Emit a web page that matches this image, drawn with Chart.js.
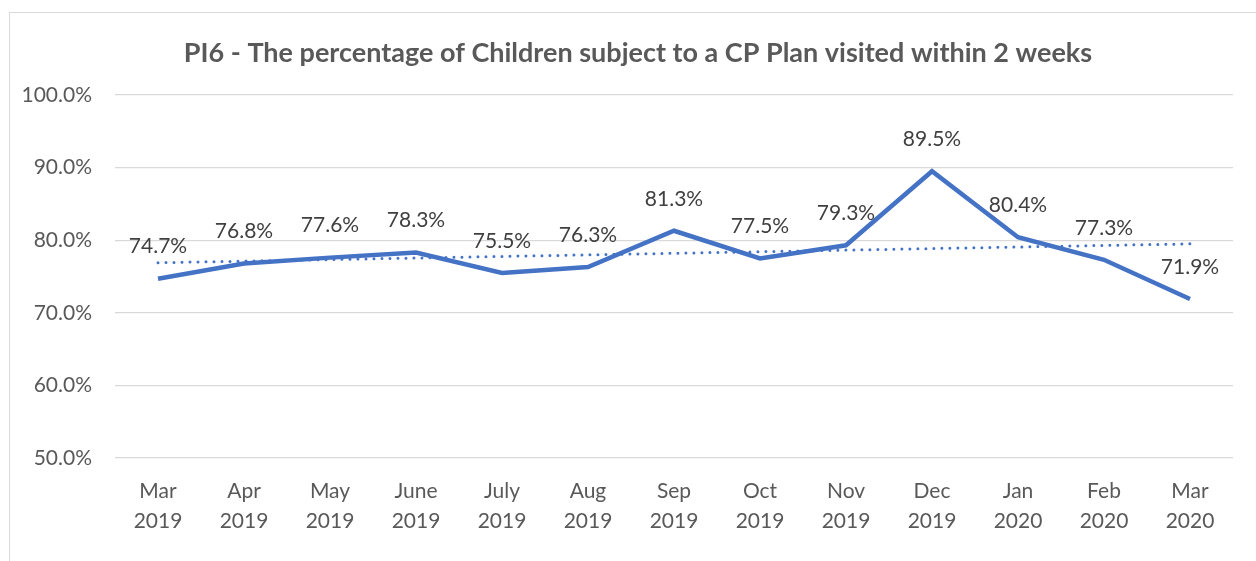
<!DOCTYPE html>
<html>
<head>
<meta charset="utf-8">
<script src="https://cdn.jsdelivr.net/npm/chart.js@4"></script>
<style>
  body { margin: 0; background: #fff; overflow: hidden; }
  .frame { position: absolute; left: 9px; top: 12px; width: 1300px; height: 600px; border: 1px solid #d9d9d9; }
  #chart { position: absolute; left: 0; top: 0; }
</style>
</head>
<body>
<div class="frame"></div>
<canvas id="chart" width="1256" height="561"></canvas>
<script>
// monthly figures, Mar 2019 - Mar 2020
const months = [
  ['Mar', '2019'], ['Apr', '2019'], ['May', '2019'], ['June', '2019'], ['July', '2019'],
  ['Aug', '2019'], ['Sep', '2019'], ['Oct', '2019'], ['Nov', '2019'], ['Dec', '2019'],
  ['Jan', '2020'], ['Feb', '2020'], ['Mar', '2020']
];
const visitedPct = [74.7, 76.8, 77.6, 78.3, 75.5, 76.3, 81.3, 77.5, 79.3, 89.5, 80.4, 77.3, 71.9];
// linear trend line, only the two ends are needed
const trendPct = [76.9, null, null, null, null, null, null, null, null, null, null, null, 79.5];
const yTicks = [50, 60, 70, 80, 90, 100];

const FONT = 'Lato, "Open Sans", sans-serif';
const BLUE = '#4472C4';

// title + value labels drawn straight on the canvas
const labelsPlugin = {
  id: 'labels',
  afterDatasetsDraw(chart) {
    const ctx = chart.ctx;
    const meta = chart.getDatasetMeta(0);
    ctx.save();
    ctx.font = '21px ' + FONT;
    ctx.fillStyle = '#404040';
    ctx.textAlign = 'center';
    ctx.textBaseline = 'middle';
    meta.data.forEach((pt, i) => {
      ctx.fillText(visitedPct[i].toFixed(1) + '%', pt.x, pt.y - 32);
    });
    ctx.font = 'bold 27px ' + FONT;
    ctx.fillStyle = '#595959';
    ctx.fillText('PI6 - The percentage of Children subject to a CP Plan visited within 2 weeks', 638, 53);
    ctx.restore();
  }
};

new Chart(document.getElementById('chart'), {
  type: 'line',
  data: {
    labels: months,
    datasets: [
      {
        data: visitedPct,
        borderColor: BLUE,
        borderWidth: 4.5,
        pointRadius: 0,
        tension: 0,
        borderJoinStyle: 'miter'
      },
      {
        data: trendPct,
        borderColor: BLUE,
        borderWidth: 3,
        borderDash: [0, 8],
        borderCapStyle: 'round',
        pointRadius: 0,
        spanGaps: true
      }
    ]
  },
  options: {
    responsive: false,
    animation: false,
    layout: { padding: { top: 95, right: 23, left: 0, bottom: 0 } },
    plugins: {
      legend: { display: false },
      tooltip: { enabled: false }
    },
    scales: {
      x: {
        offset: true,
        grid: { display: false },
        border: { display: false },
        ticks: {
          color: '#595959',
          font: { family: FONT, size: 21, lineHeight: 1.45 },
          padding: 10,
          maxRotation: 0,
          autoSkip: false
        },
        afterFit(scale) { scale.height = 103; }
      },
      y: {
        min: 50,
        max: 100,
        afterBuildTicks(scale) { scale.ticks = yTicks.map(v => ({ value: v })); },
        grid: { color: '#d9d9d9', lineWidth: 1.3, drawTicks: false },
        border: { display: false },
        ticks: {
          color: '#595959',
          font: { family: FONT, size: 21 },
          padding: 23,
          callback: v => v.toFixed(1) + '%'
        },
        afterFit(scale) { scale.width = 115; }
      }
    }
  },
  plugins: [labelsPlugin]
});
</script>
</body>
</html>
